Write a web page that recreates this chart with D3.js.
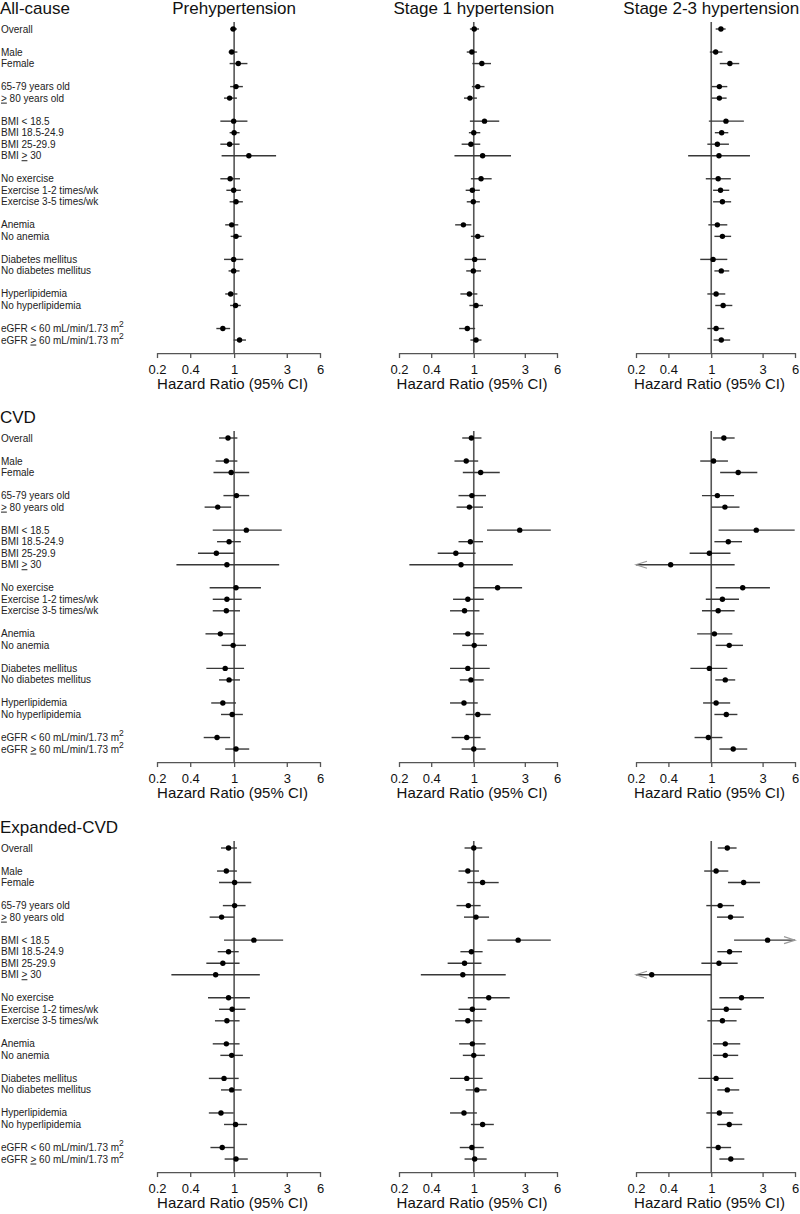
<!DOCTYPE html>
<html>
<head>
<meta charset="utf-8">
<script src="https://cdn.jsdelivr.net/npm/d3@7.9.0/dist/d3.min.js"></script>
<style>
  body { margin: 0; background: #fff; }
  svg { display: block; font-family: "Liberation Sans", Arial, sans-serif; }
</style>
</head>
<body>
<div id="chart"></div>
<script>
// subgroups, in the order they are plotted (blank line between groups)
const rowGroups = [
  ["Overall"],
  ["Male", "Female"],
  ["65-79 years old", "≥ 80 years old"],
  ["BMI < 18.5", "BMI 18.5-24.9", "BMI 25-29.9", "BMI ≥ 30"],
  ["No exercise", "Exercise 1-2 times/wk", "Exercise 3-5 times/wk"],
  ["Anemia", "No anemia"],
  ["Diabetes mellitus", "No diabetes mellitus"],
  ["Hyperlipidemia", "No hyperlipidemia"],
  ["eGFR < 60 mL/min/1.73 m²", "eGFR ≥ 60 mL/min/1.73 m²"]
];
const outcomes = ["All-cause", "CVD", "Expanded-CVD"];
const stages = ["Prehypertension", "Stage 1 hypertension", "Stage 2-3 hypertension"];
const hrTicks = [0.2, 0.4, 1, 3, 6];

// [HR, lower 95% CI, upper 95% CI], one row per subgroup
const allCausePre = [
  [0.98, 0.92, 1.06],
  [0.95, 0.89, 1.07], [1.09, 0.91, 1.32],
  [1.04, 0.92, 1.20], [0.91, 0.81, 1.06],
  [0.99, 0.75, 1.32], [1.00, 0.91, 1.12], [0.91, 0.75, 1.12], [1.36, 0.77, 2.40],
  [0.92, 0.75, 1.13], [0.99, 0.85, 1.15], [1.04, 0.91, 1.20],
  [0.95, 0.83, 1.09], [1.04, 0.93, 1.17],
  [0.99, 0.81, 1.21], [0.99, 0.89, 1.12],
  [0.93, 0.83, 1.07], [1.03, 0.92, 1.15],
  [0.79, 0.69, 0.92], [1.12, 0.99, 1.28]
];
const allCauseS1 = [
  [1.01, 0.92, 1.12],
  [0.96, 0.86, 1.07], [1.19, 0.97, 1.45],
  [1.09, 0.96, 1.26], [0.92, 0.81, 1.07],
  [1.26, 0.92, 1.73], [1.00, 0.90, 1.15], [0.94, 0.77, 1.15], [1.21, 0.66, 2.23],
  [1.17, 0.94, 1.47], [0.97, 0.84, 1.14], [0.99, 0.86, 1.14],
  [0.80, 0.67, 0.95], [1.09, 0.94, 1.25],
  [1.02, 0.82, 1.30], [0.99, 0.85, 1.17],
  [0.91, 0.75, 1.08], [1.05, 0.91, 1.22],
  [0.87, 0.73, 1.03], [1.05, 0.93, 1.18]
];
const allCauseS23 = [
  [1.23, 1.10, 1.36],
  [1.10, 0.97, 1.27], [1.49, 1.20, 1.82],
  [1.19, 1.01, 1.41], [1.19, 1.01, 1.39],
  [1.37, 0.95, 2.01], [1.25, 1.08, 1.44], [1.14, 0.92, 1.46], [1.18, 0.61, 2.29],
  [1.16, 0.89, 1.52], [1.22, 1.04, 1.47], [1.27, 1.04, 1.53],
  [1.14, 0.94, 1.41], [1.27, 1.07, 1.53],
  [1.04, 0.79, 1.41], [1.24, 1.07, 1.47],
  [1.11, 0.92, 1.35], [1.29, 1.09, 1.57],
  [1.11, 0.92, 1.32], [1.24, 1.05, 1.50]
];
const cvdPre = [
  [0.88, 0.73, 1.07],
  [0.85, 0.68, 1.07], [0.94, 0.65, 1.37],
  [1.05, 0.80, 1.37], [0.71, 0.54, 0.94],
  [1.29, 0.64, 2.70], [0.90, 0.70, 1.15], [0.69, 0.47, 1.01], [0.86, 0.30, 2.56],
  [1.04, 0.60, 1.75], [0.86, 0.64, 1.17], [0.85, 0.64, 1.13],
  [0.75, 0.55, 1.01], [0.98, 0.77, 1.28],
  [0.83, 0.56, 1.23], [0.90, 0.73, 1.13],
  [0.79, 0.62, 1.04], [0.96, 0.76, 1.20],
  [0.70, 0.53, 0.92], [1.04, 0.83, 1.37]
];
const cvdS1 = [
  [0.95, 0.78, 1.18],
  [0.85, 0.66, 1.10], [1.16, 0.79, 1.75],
  [0.96, 0.72, 1.30], [0.91, 0.69, 1.22],
  [2.69, 1.33, 5.25], [0.93, 0.72, 1.22], [0.68, 0.46, 1.04], [0.76, 0.25, 2.32],
  [1.67, 0.99, 2.83], [0.88, 0.64, 1.24], [0.82, 0.60, 1.13],
  [0.88, 0.64, 1.24], [1.01, 0.78, 1.33],
  [0.88, 0.60, 1.41], [0.94, 0.74, 1.24],
  [0.81, 0.60, 1.09], [1.09, 0.84, 1.44],
  [0.86, 0.62, 1.16], [1.00, 0.77, 1.29]
];
const cvdS23 = [
  [1.31, 1.04, 1.65],
  [1.05, 0.79, 1.43], [1.78, 1.21, 2.68],
  [1.14, 0.82, 1.63], [1.34, 1.00, 1.83],
  [2.62, 1.17, 5.96], [1.44, 1.07, 1.93], [0.96, 0.63, 1.51], [0.42, 0.12, 1.65],
  [1.96, 1.10, 3.51], [1.27, 0.89, 1.81], [1.16, 0.82, 1.65],
  [1.07, 0.74, 1.57], [1.47, 1.10, 1.97],
  [0.96, 0.64, 1.41], [1.35, 1.09, 1.67],
  [1.11, 0.84, 1.50], [1.38, 1.07, 1.75],
  [0.94, 0.70, 1.27], [1.60, 1.19, 2.16]
];
const expPre = [
  [0.89, 0.76, 1.06],
  [0.85, 0.70, 1.06], [1.01, 0.73, 1.43],
  [1.01, 0.79, 1.27], [0.77, 0.60, 1.00],
  [1.51, 0.81, 2.78], [0.89, 0.71, 1.10], [0.79, 0.56, 1.12], [0.68, 0.27, 1.71],
  [0.89, 0.58, 1.39], [0.96, 0.73, 1.27], [0.86, 0.67, 1.12],
  [0.85, 0.64, 1.12], [0.95, 0.75, 1.20],
  [0.81, 0.59, 1.10], [0.95, 0.76, 1.17],
  [0.76, 0.59, 0.99], [1.03, 0.81, 1.31],
  [0.78, 0.61, 1.00], [1.04, 0.82, 1.33]
];
const expS1 = [
  [1.00, 0.82, 1.20],
  [0.88, 0.72, 1.12], [1.21, 0.87, 1.71],
  [0.89, 0.69, 1.16], [1.05, 0.81, 1.39],
  [2.60, 1.34, 5.25], [0.95, 0.75, 1.21], [0.82, 0.57, 1.18], [0.79, 0.32, 1.99],
  [1.38, 0.88, 2.17], [0.97, 0.72, 1.31], [0.88, 0.67, 1.20],
  [0.97, 0.73, 1.29], [1.00, 0.79, 1.27],
  [0.86, 0.60, 1.21], [1.07, 0.84, 1.32],
  [0.81, 0.60, 1.07], [1.21, 0.94, 1.54],
  [0.96, 0.74, 1.24], [1.02, 0.82, 1.32]
];
const expS23 = [
  [1.41, 1.15, 1.72],
  [1.11, 0.86, 1.44], [2.00, 1.43, 2.84],
  [1.21, 0.90, 1.63], [1.51, 1.13, 2.01],
  [3.34, 1.63, 7.20], [1.48, 1.14, 1.93], [1.18, 0.81, 1.76], [0.28, 0.08, 1.00],
  [1.91, 1.19, 3.09], [1.38, 1.00, 1.91], [1.27, 0.92, 1.72],
  [1.35, 1.04, 1.86], [1.35, 1.04, 1.78],
  [1.11, 0.76, 1.60], [1.41, 1.14, 1.82],
  [1.19, 0.90, 1.60], [1.47, 1.14, 1.94],
  [1.16, 0.90, 1.53], [1.52, 1.19, 2.03]
];
const results = [
  [allCausePre, allCauseS1, allCauseS23],
  [cvdPre, cvdS1, cvdS23],
  [expPre, expS1, expS23]
];

// layout
const width = 800;
const height = 1214;
const sectionOffset = [0, 409, 819];
const firstRowY = 29;
const rowStep = 11.52;
const panelRanges = [[157, 320], [399, 557], [636, 795]];
const lineColor = "#383838";
const refColor = "#555";

// row positions: one step between rows, one extra step between groups
const rows = [];
let pos = 0;
rowGroups.forEach((g, gi) => {
  if (gi > 0) pos += 1;
  g.forEach((label) => {
    rows.push({ label, pos });
    pos += 1;
  });
});
const lastPos = rows[rows.length - 1].pos;

const svg = d3
  .select("#chart")
  .append("svg")
  .attr("width", width)
  .attr("height", height);

const xScales = panelRanges.map((r) =>
  d3.scaleLog().domain([0.2, 6]).range(r)
);

// panel titles (top row only)
stages.forEach((s, j) => {
  svg
    .append("text")
    .attr("x", xScales[j](1))
    .attr("y", 14)
    .attr("text-anchor", "middle")
    .attr("font-size", 17)
    .attr("fill", "#111")
    .text(s);
});

// write a row label: "≥" is shown as an underlined ">", "²" as a raised 2
function writeLabel(textSel, label) {
  let main = label;
  let sup = null;
  if (main.endsWith("²")) {
    main = main.slice(0, -1);
    sup = "2";
  }
  const parts = main.split("≥");
  parts.forEach((p, k) => {
    if (k > 0) {
      textSel
        .append("tspan")
        .style("text-decoration", "underline")
        .text(">");
    }
    textSel.append("tspan").text(p);
  });
  if (sup) {
    textSel
      .append("tspan")
      .attr("dy", -5)
      .attr("font-size", 8.5)
      .text(sup);
  }
}

outcomes.forEach((outcome, i) => {
  const oy = sectionOffset[i];
  const yRow = (p) => oy + firstRowY + p * rowStep;
  const axisY = yRow(lastPos) + 13;

  svg
    .append("text")
    .attr("x", 0)
    .attr("y", oy + 14)
    .attr("font-size", 17)
    .attr("fill", "#111")
    .text(outcome);

  const labelG = svg.append("g").attr("class", "labels");
  rows.forEach((r) => {
    const t = labelG
      .append("text")
      .attr("x", 1)
      .attr("y", yRow(r.pos))
      .attr("dy", "0.35em")
      .attr("font-size", 10)
      .attr("fill", "#222");
    writeLabel(t, r.label);
  });

  stages.forEach((stage, j) => {
    const x = xScales[j];
    const data = results[i][j];
    const g = svg.append("g").attr("class", "panel");
    const [lo, hi] = x.domain();

    // reference line at HR = 1
    g.append("line")
      .attr("x1", x(1))
      .attr("x2", x(1))
      .attr("y1", yRow(0) - 7)
      .attr("y2", axisY)
      .attr("stroke", refColor)
      .attr("stroke-width", 1.6);

    const pts = data.map((d, k) => ({
      hr: d[0],
      lower: d[1],
      upper: d[2],
      y: yRow(rows[k].pos)
    }));

    g.selectAll("line.ci")
      .data(pts)
      .join("line")
      .attr("class", "ci")
      .attr("x1", (d) => x(Math.max(lo, d.lower)))
      .attr("x2", (d) => x(Math.min(hi, d.upper)))
      .attr("y1", (d) => d.y)
      .attr("y2", (d) => d.y)
      .attr("stroke", lineColor)
      .attr("stroke-width", 1.4);

    // open arrow heads where the interval runs off the axis
    const arrows = [];
    pts.forEach((d) => {
      if (d.lower < lo) arrows.push({ x: x(lo), dir: -1, y: d.y });
      if (d.upper > hi) arrows.push({ x: x(hi), dir: 1, y: d.y });
    });
    g.selectAll("path.arrow")
      .data(arrows)
      .join("path")
      .attr("class", "arrow")
      .attr("d", (a) => {
        const bx = a.x - a.dir * 11;
        return `M${bx},${a.y - 3.5}L${a.x},${a.y}L${bx},${a.y + 3.5}`;
      })
      .attr("fill", "none")
      .attr("stroke", "#999")
      .attr("stroke-width", 1.2);

    g.selectAll("circle")
      .data(pts)
      .join("circle")
      .attr("cx", (d) => x(d.hr))
      .attr("cy", (d) => d.y)
      .attr("r", 2.7)
      .attr("fill", "#000");

    const axis = g
      .append("g")
      .attr("transform", `translate(0,${axisY})`)
      .call(
        d3
          .axisBottom(x)
          .tickValues(hrTicks)
          .tickFormat((d) => d)
          .tickSize(5)
          .tickSizeOuter(0)
          .tickPadding(7)
      );
    axis.select(".domain").attr("stroke", refColor).attr("stroke-width", 1.3);
    axis.selectAll(".tick line").attr("stroke", refColor).attr("stroke-width", 1.3);
    axis
      .selectAll(".tick text")
      .attr("font-size", 13)
      .attr("fill", "#111")
      .attr("font-family", "Liberation Sans, Arial, sans-serif");

    const r = x.range();
    g.append("text")
      .attr("x", (r[0] + r[1]) / 2 - 6)
      .attr("y", axisY + 36)
      .attr("text-anchor", "middle")
      .attr("font-size", 15)
      .attr("fill", "#111")
      .text("Hazard Ratio (95% CI)");
  });
});
</script>
</body>
</html>
